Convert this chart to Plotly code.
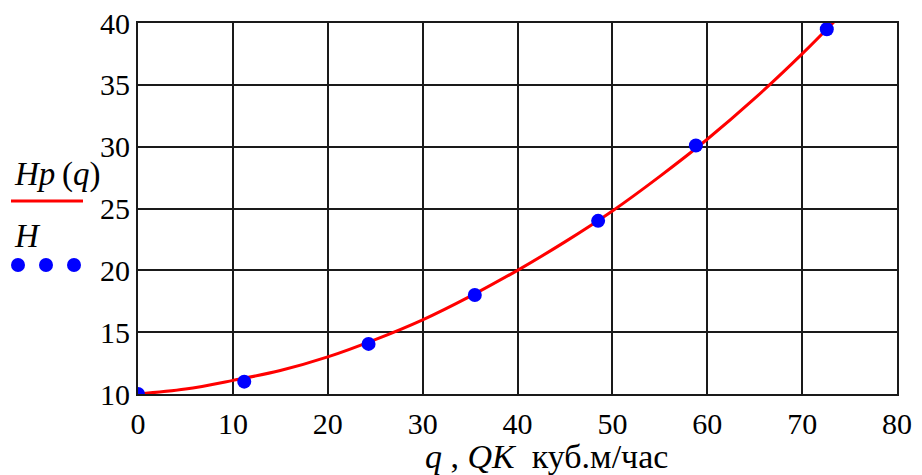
import plotly.graph_objects as go

# Measured points H(QK)
QK = [0.0, 11.2, 24.3, 35.5, 48.5, 58.8, 72.6]
H = [10.0, 11.0, 14.05, 18.0, 24.0, 30.1, 39.5]

# Curve Hp(q)
q = [0, 5, 10, 15, 20, 25, 30, 35, 40, 45, 50, 55, 60, 65, 70, 74]
Hp = [10.0, 10.4, 11.1, 11.9, 13.0, 14.4, 16.0, 17.9, 20.0, 22.3, 24.8, 27.6, 30.6, 33.9, 37.5, 40.6]

x_ticks = [0, 10, 20, 30, 40, 50, 60, 70, 80]
y_ticks = [10, 15, 20, 25, 30, 35, 40]

OFF = 8  # page body margin
W, Hpx = 922 - OFF, 475 - OFF
ML, MR, MT, MB = 138 - OFF, 25, 23 - OFF, 81
pw, ph = W - ML - MR, Hpx - MT - MB

def px(xp):
    return (xp - OFF - ML) / pw

def py(yp):
    return (Hpx - MB - (yp - OFF)) / ph

font_family = "Liberation Serif"

fig = go.Figure()
fig.add_trace(go.Scatter(x=q, y=Hp, mode="lines", line=dict(color="#ff0000", width=3, shape="spline"),
                         showlegend=False, hoverinfo="skip"))
fig.add_trace(go.Scatter(x=QK, y=H, mode="markers", marker=dict(color="#0000ff", size=14),
                         showlegend=False))

axis_common = dict(showgrid=True, gridcolor="#1a1a1a", gridwidth=2, showline=True, linecolor="#1a1a1a",
                   linewidth=2, mirror=True, zeroline=False, ticks="", automargin=False,
                   ticklabeloverflow="allow",
                   tickfont=dict(family=font_family, size=30, color="black"))

fig.update_xaxes(range=[0, 80], tickvals=x_ticks, ticktext=[str(v) for v in x_ticks],
                 ticklabelstandoff=2, **axis_common)
fig.update_yaxes(range=[10, 40], tickvals=y_ticks, ticktext=[str(v) for v in y_ticks],
                 ticklabelstandoff=0, **axis_common)

annotations = [
    dict(text="<i>q</i> , <i>QK</i>\u00a0\u00a0куб.м/час", xref="paper", yref="paper",
         x=px(546), y=py(456), xanchor="center", yanchor="middle", showarrow=False,
         font=dict(family=font_family, size=34, color="black")),
    dict(text="<i>Hp</i>\u2009(<i>q</i>)", xref="paper", yref="paper",
         x=px(12), y=py(174), xanchor="left", yanchor="middle", showarrow=False,
         font=dict(family=font_family, size=33, color="black")),
    dict(text="<i>H</i>", xref="paper", yref="paper",
         x=px(12), y=py(236), xanchor="left", yanchor="middle", showarrow=False,
         font=dict(family=font_family, size=33, color="black")),
]

shapes = [
    dict(type="line", xref="paper", yref="paper", x0=px(11), x1=px(83), y0=py(201), y1=py(201),
         line=dict(color="#ff0000", width=3)),
]
for cx in [18, 46, 74]:
    shapes.append(dict(type="circle", xref="paper", yref="paper",
                       x0=px(cx - 7), x1=px(cx + 7), y0=py(265 + 7), y1=py(265 - 7),
                       fillcolor="#0000ff", line=dict(width=0)))

fig.update_layout(width=W, height=Hpx, margin=dict(l=ML, r=MR, t=MT, b=MB),
                  paper_bgcolor="white", plot_bgcolor="white",
                  annotations=annotations, shapes=shapes, showlegend=False)

fig.write_html("out.html")
